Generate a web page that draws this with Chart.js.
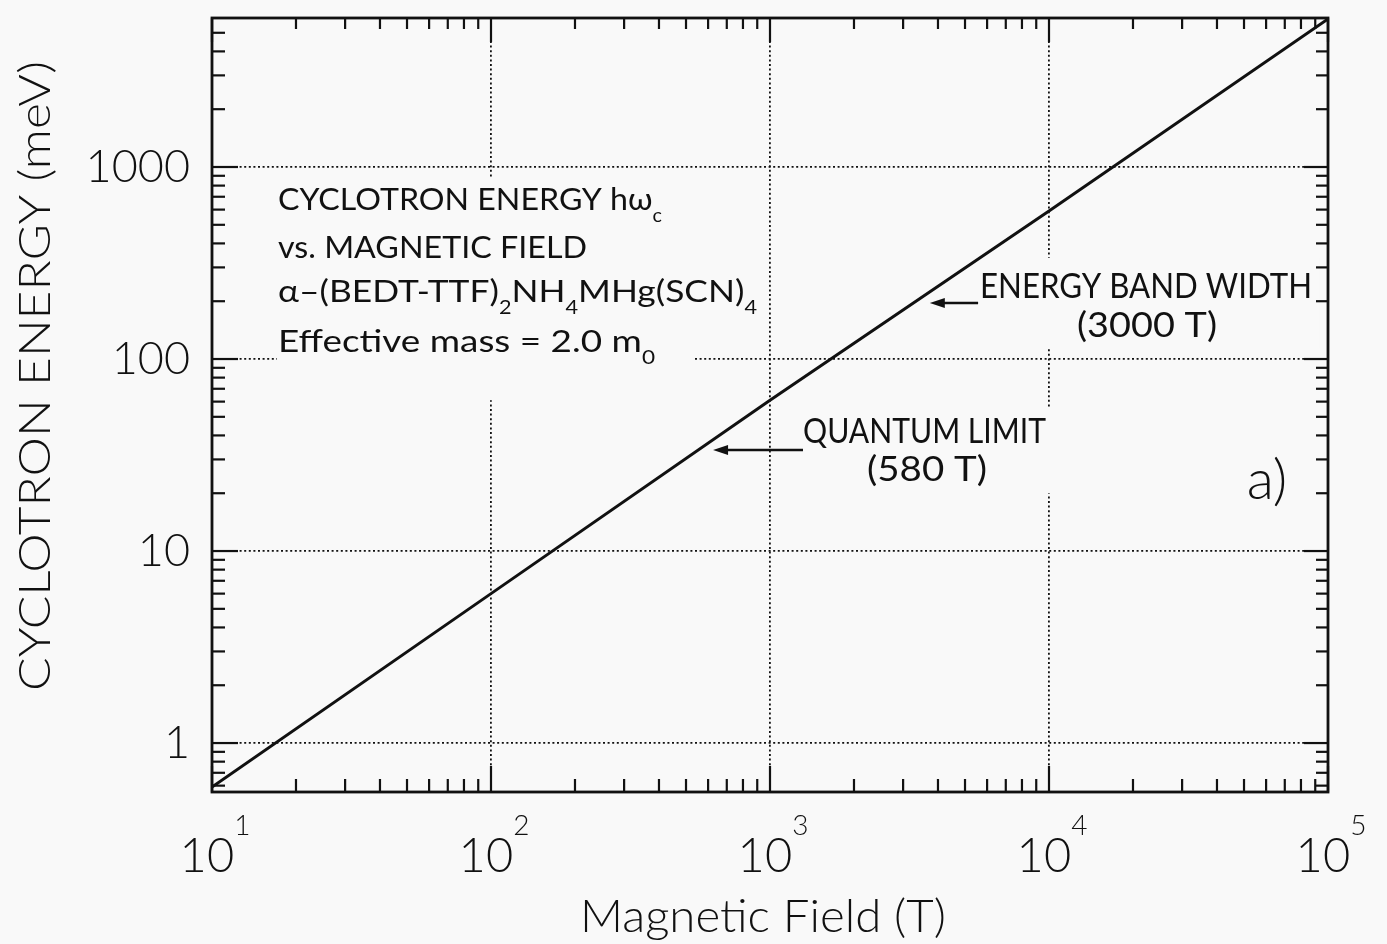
<!DOCTYPE html>
<html>
<head>
<meta charset="utf-8">
<script src="https://cdn.jsdelivr.net/npm/chart.js@4.4.0/dist/chart.umd.min.js"></script>
<style>
  html, body { margin: 0; padding: 0; background: #f9f9f9; }
  #chart { display: block; }
</style>
</head>
<body>
<canvas id="chart" width="1387" height="944"></canvas>
<script>
// field (T) and cyclotron energy (meV) along the line, read at each decade
const fieldT = [10, 100, 1000, 10000, 100000];
const energyMeV = [0.59, 6.0, 61, 590, 5900];

// decade ticks
const xTickValues = [10, 100, 1000, 10000, 100000];
const xTickExponents = ['1', '2', '3', '4', '5'];
const yTickValues = [1, 10, 100, 1000];
const yTickLabels = ['1', '10', '100', '1000'];

const FONT = 'Lato, "DejaVu Sans", sans-serif';
const INK = '#111';
const PAPER = '#f9f9f9';

function minorTicks(min, max) {
  const out = [];
  for (let e = Math.floor(Math.log10(min)); e <= Math.ceil(Math.log10(max)); e++) {
    for (let k = 2; k <= 9; k++) {
      const v = k * Math.pow(10, e);
      if (v > min && v < max) out.push(v);
    }
  }
  return out;
}

// text with sub/superscript pieces: [[text, 'sub'|'sup'|null], ...]
function richWidth(ctx, parts, size, weight) {
  let total = 0;
  parts.forEach(([t, k]) => {
    ctx.font = (weight || '400') + ' ' + Math.round(k ? size * 0.6 : size) + 'px ' + FONT;
    total += ctx.measureText(t).width;
  });
  return total;
}

function richText(ctx, parts, x, y, size, weight, align) {
  const fontOf = k => (weight || '400') + ' ' + Math.round(k ? size * 0.6 : size) + 'px ' + FONT;
  const total = richWidth(ctx, parts, size, weight);
  let cx = align === 'center' ? x - total / 2 : x;
  ctx.textAlign = 'left';
  ctx.textBaseline = 'alphabetic';
  parts.forEach(([t, k]) => {
    ctx.font = fontOf(k);
    let dy = 0;
    if (k === 'sub') dy = size * 0.38;
    if (k === 'sup') dy = -size * 0.78;
    ctx.fillText(t, cx, y + dy);
    cx += ctx.measureText(t).width;
  });
}

// same, stretched horizontally to a given width
function fitText(ctx, parts, x, y, size, weight, width, align) {
  const natural = richWidth(ctx, parts, size, weight);
  const sx = width / natural;
  ctx.save();
  ctx.translate(align === 'center' ? x - width / 2 : x, y);
  ctx.scale(sx, 1);
  richText(ctx, parts, 0, 0, size, weight);
  ctx.restore();
}

function arrow(ctx, x1, y1, x2, y2) {
  const a = Math.atan2(y2 - y1, x2 - x1);
  const len = 15, half = 5;
  ctx.beginPath();
  ctx.moveTo(x1, y1);
  ctx.lineTo(x2 - Math.cos(a) * len * 0.8, y2 - Math.sin(a) * len * 0.8);
  ctx.stroke();
  ctx.beginPath();
  ctx.moveTo(x2, y2);
  ctx.lineTo(x2 - Math.cos(a) * len + Math.sin(a) * half, y2 - Math.sin(a) * len - Math.cos(a) * half);
  ctx.lineTo(x2 - Math.cos(a) * len - Math.sin(a) * half, y2 - Math.sin(a) * len + Math.cos(a) * half);
  ctx.closePath();
  ctx.fill();
}

// areas behind the labels where the dotted grid is left out (data units)
const labelBoxes = [
  { x: [17.1, 535], y: [877, 61] },
  { x: [5660, 93500], y: [336, 114] },
  { x: [1231, 10900], y: [56.2, 20.0] }
];

const decorations = {
  id: 'decorations',
  beforeDraw(chart) {
    const ctx = chart.ctx;
    ctx.save();
    ctx.fillStyle = PAPER;
    ctx.fillRect(0, 0, chart.width, chart.height);
    ctx.restore();
  },
  beforeDatasetsDraw(chart) {
    const ctx = chart.ctx;
    const xs = chart.scales.x, ys = chart.scales.y;
    ctx.save();
    ctx.fillStyle = PAPER;
    labelBoxes.forEach(b => {
      const x1 = xs.getPixelForValue(b.x[0]), x2 = xs.getPixelForValue(b.x[1]);
      const y1 = ys.getPixelForValue(b.y[0]), y2 = ys.getPixelForValue(b.y[1]);
      ctx.fillRect(x1, y1, x2 - x1, y2 - y1);
    });
    ctx.restore();
  },
  afterDraw(chart) {
    const ctx = chart.ctx;
    const xs = chart.scales.x, ys = chart.scales.y;
    const { left, right, top, bottom } = chart.chartArea;
    ctx.save();
    ctx.strokeStyle = INK;
    ctx.fillStyle = INK;
    ctx.lineCap = 'butt';

    const seg = (x1, y1, x2, y2) => {
      ctx.beginPath(); ctx.moveTo(x1, y1); ctx.lineTo(x2, y2); ctx.stroke();
    };

    // inward ticks on all four sides
    ctx.lineWidth = 2.2;
    xTickValues.forEach(v => {
      const p = xs.getPixelForValue(v);
      seg(p, bottom, p, bottom - 26);
      seg(p, top, p, top + 24);
    });
    minorTicks(xs.min, xs.max).forEach(v => {
      const p = xs.getPixelForValue(v);
      seg(p, bottom, p, bottom - 13);
      seg(p, top, p, top + 11);
    });
    yTickValues.forEach(v => {
      const p = ys.getPixelForValue(v);
      seg(left, p, left + 26, p);
      seg(right, p, right - 24, p);
    });
    minorTicks(ys.min, ys.max).forEach(v => {
      const p = ys.getPixelForValue(v);
      seg(left, p, left + 13, p);
      seg(right, p, right - 12, p);
    });

    // frame
    ctx.lineWidth = 2.8;
    ctx.strokeRect(left, top, right - left, bottom - top);

    // x decade labels 10^n
    xTickValues.forEach((v, i) => {
      richText(ctx, [['10', null], [xTickExponents[i], 'sup']], xs.getPixelForValue(v) + 3, 872, 47, '300', 'center');
    });

    // axis titles
    fitText(ctx, [['Magnetic Field (T)', null]], 763, 932, 45, '300', 366, 'center');
    ctx.save();
    ctx.translate(50, 376);
    ctx.rotate(-Math.PI / 2);
    fitText(ctx, [['CYCLOTRON ENERGY (meV)', null]], 0, 0, 44, '300', 630, 'center');
    ctx.restore();

    // legend block
    const tx = 278, ts = 31;
    fitText(ctx, [['CYCLOTRON ENERGY h\u03C9', null], ['c', 'sub']], tx, 210, ts, '400', 384);
    fitText(ctx, [['vs. MAGNETIC FIELD', null]], tx, 258, ts, '400', 309);
    fitText(ctx, [['\u03B1\u2013(BEDT-TTF)', null], ['2', 'sub'], ['NH', null], ['4', 'sub'],
                  ['MHg(SCN)', null], ['4', 'sub']], tx, 302, ts, '400', 479);
    fitText(ctx, [['Effective mass = 2.0 m', null], ['0', 'sub']], tx, 352, ts, '400', 377);

    // markers on the line
    ctx.lineWidth = 2.5;
    arrow(ctx, xs.getPixelForValue(5570), ys.getPixelForValue(196),
               xs.getPixelForValue(3740), ys.getPixelForValue(196));
    arrow(ctx, xs.getPixelForValue(1313), ys.getPixelForValue(33.6),
               xs.getPixelForValue(625), ys.getPixelForValue(33.6));

    fitText(ctx, [['ENERGY BAND WIDTH', null]], 980, 298, 34, '400', 332);
    fitText(ctx, [['(3000 T)', null]], 1147, 337, 34, '400', 140, 'center');
    fitText(ctx, [['QUANTUM LIMIT', null]], 803, 443, 34, '400', 243);
    fitText(ctx, [['(580 T)', null]], 927, 481, 34, '400', 120, 'center');

    richText(ctx, [['a)', null]], 1267, 499, 56, '300', 'center');

    ctx.restore();
  }
};

Chart.defaults.font.family = FONT;
Chart.defaults.color = INK;

new Chart(document.getElementById('chart').getContext('2d'), {
  type: 'scatter',
  data: {
    datasets: [{
      data: fieldT.map((b, i) => ({ x: b, y: energyMeV[i] })),
      showLine: true,
      borderColor: INK,
      borderWidth: 3,
      pointRadius: 0,
      fill: false
    }]
  },
  options: {
    responsive: false,
    animation: false,
    devicePixelRatio: 1,
    layout: { padding: { left: 0, top: 18, right: 59, bottom: 0 } },
    plugins: { legend: { display: false }, tooltip: { enabled: false } },
    scales: {
      x: {
        type: 'logarithmic',
        min: 10,
        max: 100000,
        afterBuildTicks: s => { s.ticks = xTickValues.map(v => ({ value: v })); },
        afterFit: s => { s.height = 152; s.paddingLeft = 0; s.paddingRight = 0; },
        ticks: { display: false },
        grid: { color: INK, lineWidth: 1.8, drawTicks: false },
        border: { display: false, dash: [2, 2.6] }
      },
      y: {
        type: 'logarithmic',
        min: 0.556,
        max: 5970,
        afterBuildTicks: s => { s.ticks = yTickValues.map(v => ({ value: v })); },
        afterFit: s => { s.width = 212; s.paddingTop = 0; s.paddingBottom = 0; },
        ticks: {
          padding: 22,
          autoSkip: false,
          font: { size: 45, weight: '300' },
          color: INK,
          callback: v => yTickLabels[yTickValues.indexOf(v)]
        },
        grid: { color: INK, lineWidth: 1.8, drawTicks: false },
        border: { display: false, dash: [2, 2.6] }
      }
    }
  },
  plugins: [decorations]
});
</script>
</body>
</html>
